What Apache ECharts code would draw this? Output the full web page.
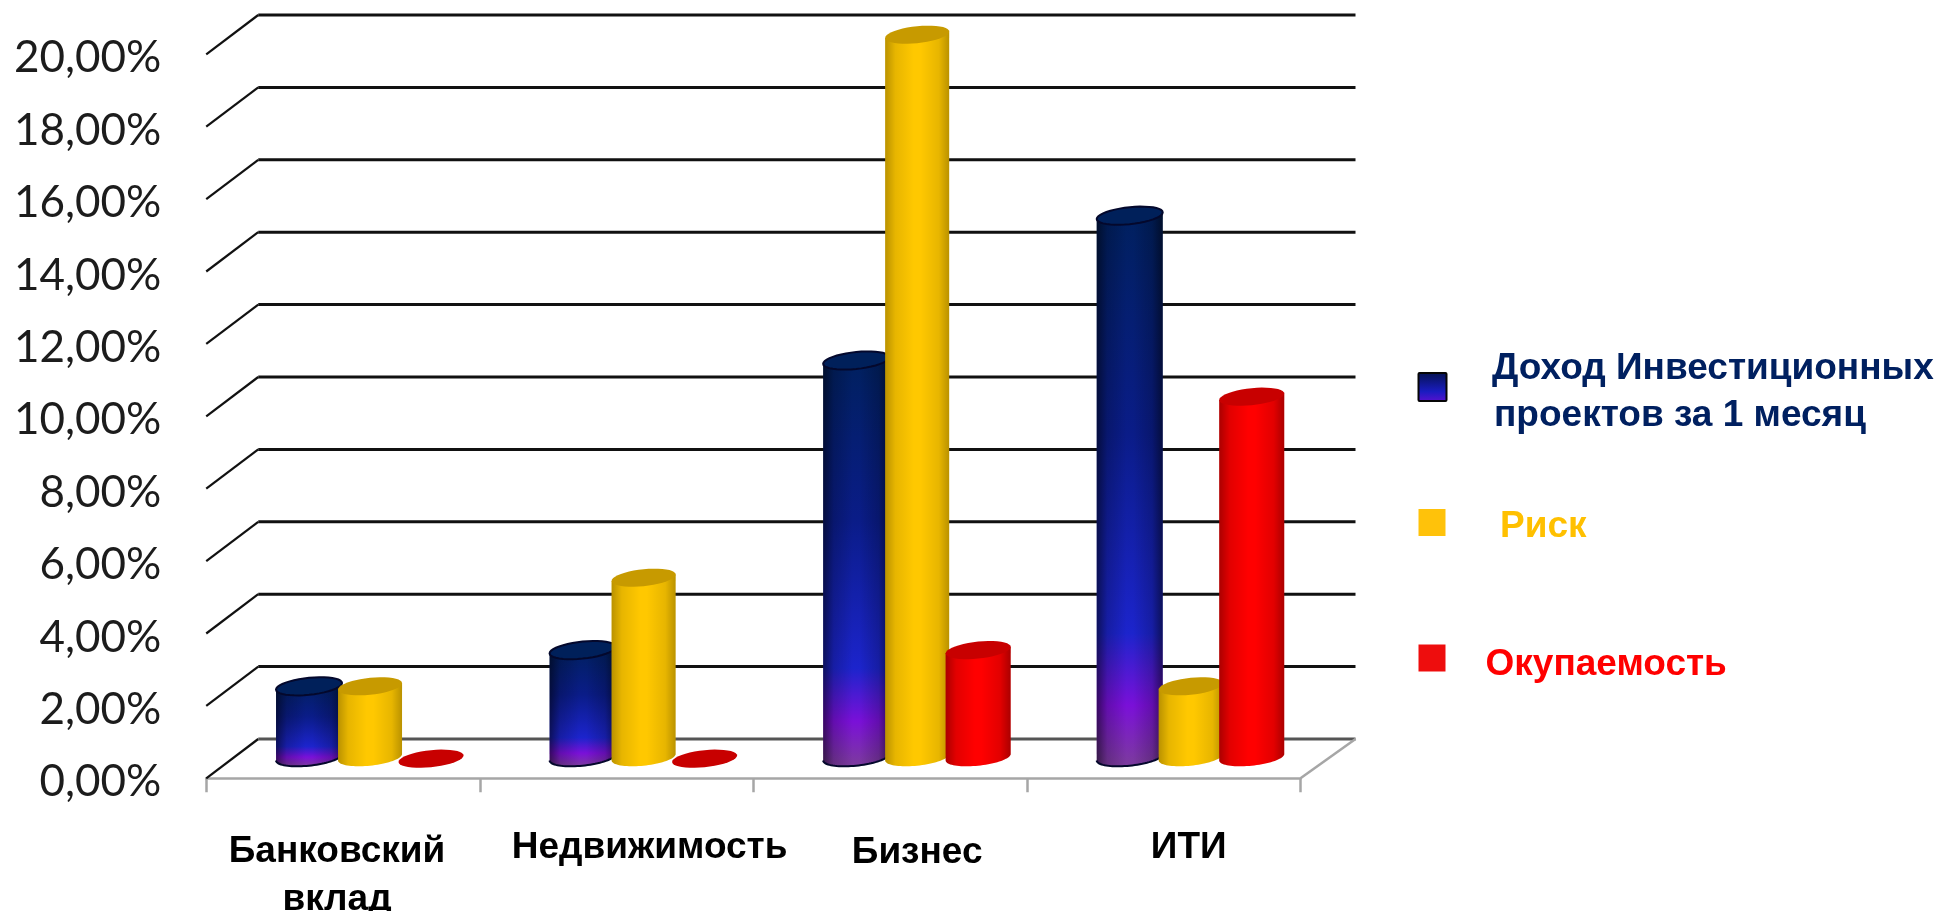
<!DOCTYPE html>
<html><head><meta charset="utf-8">
<style>html,body{margin:0;padding:0;background:#fff}#c{width:1942px;height:911px}</style>
<script src="https://cdn.jsdelivr.net/npm/echarts@6/dist/echarts.min.js"></script>
</head><body><div id="c"></div>
<script>
const categories = ['Банковский\nвклад', 'Недвижимость', 'Бизнес', 'ИТИ'];
const income = [2, 3, 11, 15];
const risk = [2, 5, 20, 2];
const payback = [0, 0, 3, 10];
const yTicks = [0, 2, 4, 6, 8, 10, 12, 14, 16, 18, 20];
const seriesNames = ['Доход Инвестиционных проектов за 1 месяц', 'Риск', 'Окупаемость'];

// 3D look
const DX = 52, DY = 39.3, MIDX = 27, MIDY = 19.6, B = 8.5, SHEAR = 0.1, STEP = 61;
const G = (x0, y0, x1, y1, stops) => new echarts.graphic.LinearGradient(x0, y0, x1, y1,
  stops.map(s => ({offset: s[0], color: s[1]})));
const blueGrad = () => G(0, 0, 0, 1, [[0, '#00205e'], [0.4, '#0a1c88'], [0.76, '#1c24cc'], [0.89, '#7a10d8'], [1, '#7c3c9c']]);

function ellipsePts(cx, cy, a, t0, t1) {
  const pts = [];
  for (let i = 0; i <= 40; i++) {
    const t = t0 + (t1 - t0) * i / 40;
    const c = Math.cos(t), s = Math.sin(t);
    pts.push([cx + a * c, cy + B * s - a * c * SHEAR]);
  }
  return pts;
}

function cylinder(slot, width, body, topFill, edgeAlpha, outline) {
  return function (params, api) {
    const cat = api.value(0), v = api.value(1);
    const p0 = api.coord([cat, 0]), p1 = api.coord([cat, v]);
    const cx = p0[0] + MIDX + slot * STEP;
    const yb = p0[1] - MIDY - 1.5, yt = p1[1] - MIDY;
    const a = width / 2;
    const children = [];
    if (v > 0) {
      const pts = [[cx - a, yt + a * SHEAR]].concat(ellipsePts(cx, yb, a, Math.PI, 0), [[cx + a, yt - a * SHEAR]]);
      children.push({type: 'polygon', shape: {points: pts}, style: {fill: body()}});
      children.push({type: 'polygon', shape: {points: pts}, style: {fill: G(0, 0, 1, 0, [
        [0, 'rgba(0,0,0,' + edgeAlpha + ')'], [0.16, 'rgba(0,0,0,' + edgeAlpha * 0.35 + ')'], [0.45, 'rgba(0,0,0,0)'],
        [0.55, 'rgba(0,0,0,0)'], [0.84, 'rgba(0,0,0,' + edgeAlpha * 0.35 + ')'], [1, 'rgba(0,0,0,' + edgeAlpha + ')']])}});
      if (outline) children.push({type: 'polyline', shape: {points: ellipsePts(cx, yb, a, Math.PI, 0)},
        style: {stroke: outline, lineWidth: 2, fill: 'none'}});
    }
    children.push({type: 'polygon', shape: {points: ellipsePts(cx, yt, a, 0, Math.PI * 2)},
      style: {fill: topFill, stroke: outline || null, lineWidth: outline ? 2 : 0}});
    return {type: 'group', children};
  };
}

function toData(values) { return values.map((v, i) => [i, v]); }

const labelStyle = [
  {padding: [5, 12, 0, 0]},
  {padding: [1, 0, 0, 66]},
  {padding: [6, 0, 0, 54]},
  {padding: [1, 0, 0, 50]}
];

const option = {
  animation: false,
  backgroundColor: '#fff',
  grid: {left: 206.25, right: 1942 - 1300.5, top: 54.3, bottom: 911 - 778.3, containLabel: false, outerBoundsMode: 'none'},
  xAxis: {
    type: 'category',
    data: categories.map((c, i) => ({value: c, textStyle: labelStyle[i]})),
    boundaryGap: true,
    axisLine: {lineStyle: {color: '#a6a6a6', width: 2.5}},
    axisTick: {show: true, interval: 0, alignWithLabel: false, length: 14, lineStyle: {color: '#a6a6a6', width: 2.5}},
    axisLabel: {interval: 0, margin: 44, color: '#000', fontFamily: 'Liberation Sans', fontWeight: 'bold', fontSize: 37, lineHeight: 48, hideOverlap: false},
    splitLine: {show: false}
  },
  yAxis: {
    type: 'value', min: 0, max: 20, interval: 2,
    axisLine: {show: false}, axisTick: {show: false}, splitLine: {show: false},
    axisLabel: {margin: 45, color: '#1c1c1c', fontFamily: 'Lato', fontSize: 44,
      rich: {d: {color: '#1c1c1c', fontFamily: 'Lato', fontSize: 44, padding: [8, 0, 0, 0]}},
      formatter: v => '{d|' + v.toFixed(2).replace('.', ',') + '%}'}
  },
  series: [
    {
      type: 'custom', name: 'walls', silent: true, z: 1, clip: false, data: yTicks.map(v => [0, v]),
      renderItem(params, api) {
        const v = api.value(1), y = api.coord([0, v])[1];
        const cs = params.coordSys;
        const x0 = cs.x, x1 = cs.x + cs.width;
        const children = [
          {type: 'line', shape: {x1: x0, y1: y, x2: x0 + DX, y2: y - DY},
           style: {stroke: '#111', lineWidth: 2.2}},
          {type: 'line', shape: {x1: x0 + DX, y1: y - DY, x2: x1 + DX + 3, y2: y - DY},
           style: {stroke: v === 0 ? '#555' : '#111', lineWidth: 3}}
        ];
        if (v === 0) children.push({type: 'line', shape: {x1: x1, y1: y, x2: x1 + DX + 3, y2: y - DY},
          style: {stroke: '#a6a6a6', lineWidth: 2.5}});
        return {type: 'group', children};
      }
    },
    {type: 'custom', name: seriesNames[0], z: 2, clip: false, data: toData(income),
      renderItem: cylinder(-1, 66, blueGrad, '#00205a', 0.55, '#04082c')},
    {type: 'custom', name: seriesNames[1], z: 3, clip: false, data: toData(risk),
      renderItem: cylinder(0, 64, () => '#ffc800', '#c79a00', 0.27, null)},
    {type: 'custom', name: seriesNames[2], z: 4, clip: false, data: toData(payback),
      renderItem: cylinder(1, 65, () => '#ff0000', '#c80000', 0.33, null)}
  ],
  graphic: {elements: [
    {type: 'rect', shape: {x: 1418.5, y: 373, width: 28, height: 28, r: 1}, style: {fill: G(0, 0, 0, 1, [[0, '#04124e'], [0.65, '#1a1cc0'], [1, '#5a10d0']]), stroke: '#060606', lineWidth: 2}},
    {type: 'rect', shape: {x: 1418.5, y: 509, width: 27, height: 27}, style: {fill: '#ffc20a'}},
    {type: 'rect', shape: {x: 1418.5, y: 644.5, width: 27, height: 27}, style: {fill: '#ee0d0d'}},
    {type: 'text', style: {text: 'Доход Инвестиционных', x: 1492, y: 368.5, font: 'bold 37px "Liberation Sans"', fill: '#002060', verticalAlign: 'middle'}},
    {type: 'text', style: {text: 'проектов за 1 месяц', x: 1494, y: 415.5, font: 'bold 37px "Liberation Sans"', fill: '#002060', verticalAlign: 'middle'}},
    {type: 'text', style: {text: 'Риск', x: 1500, y: 527, font: 'bold 37px "Liberation Sans"', fill: '#ffc000', verticalAlign: 'middle'}},
    {type: 'text', style: {text: 'Окупаемость', x: 1485.5, y: 664.5, font: 'bold 37px "Liberation Sans"', fill: '#ff0000', verticalAlign: 'middle'}}
  ]}
};
const chart = echarts.init(document.getElementById('c'));
chart.setOption(option);
</script></body></html>
